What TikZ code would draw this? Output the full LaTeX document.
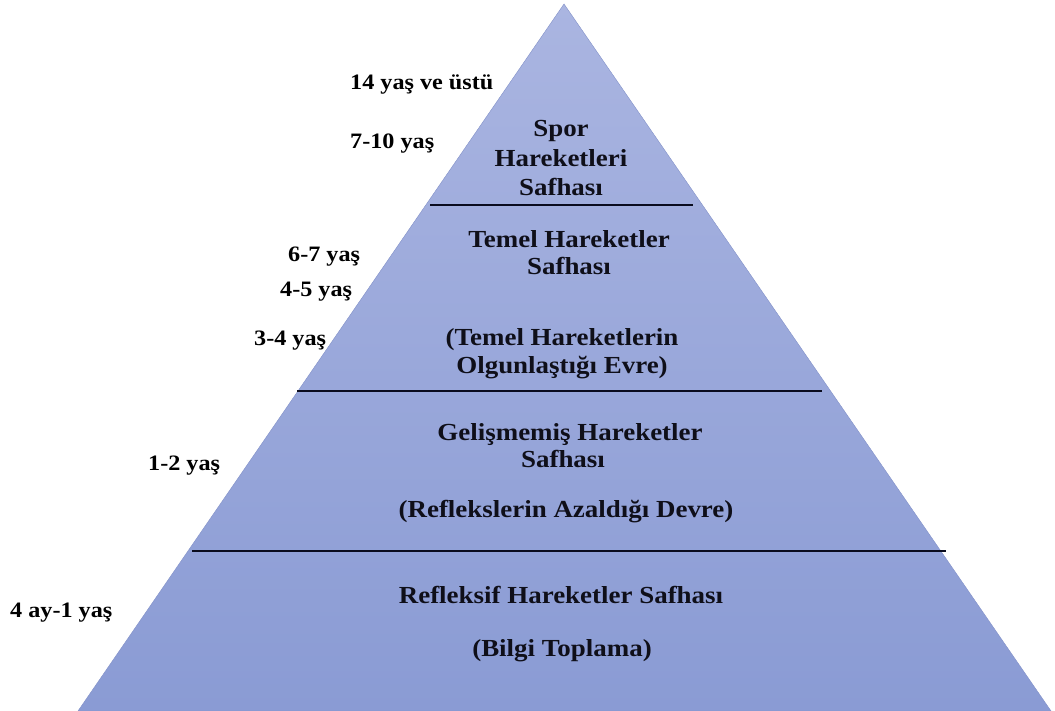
\documentclass[tikz,border=0pt]{standalone}
\usepackage{fontspec}
\setmainfont{Liberation Serif}
\newfontfamily\widefont[FakeStretch=1.1]{Liberation Serif}
\begin{document}
\begin{tikzpicture}[x=1pt,y=-1pt,
  agelbl/.style={font=\widefont\fontsize{22}{26}\selectfont\bfseries, inner sep=0pt, text=black, anchor=base west},
  stage/.style={font=\widefont\fontsize{24.5}{29}\selectfont\bfseries, inner sep=0pt, text={rgb,255:red,15;green,15;blue,25}, anchor=base},
  divider/.style={draw={rgb,255:red,10;green,12;blue,30}, line width=2pt}]
\useasboundingbox (0,0) rectangle (1055,711);
\coordinate (apex) at (564,4);
\coordinate (bl) at (78,711);
\coordinate (br) at (1051,711);
\shade[top color={rgb,255:red,170;green,181;blue,225}, bottom color={rgb,255:red,138;green,155;blue,212}, draw={rgb,255:red,130;green,145;blue,200}, line width=0.4pt]
  (apex) -- (br) -- (bl) -- cycle;
% dividers
\coordinate (d1a) at (430,205); \coordinate (d1b) at (693,205);
\coordinate (d2a) at (297,391); \coordinate (d2b) at (822,391);
\coordinate (d3a) at (192,551); \coordinate (d3b) at (946,551);
\draw[divider] (d1a) -- (d1b);
\draw[divider] (d2a) -- (d2b);
\draw[divider] (d3a) -- (d3b);
% stage texts
\node[stage] (s1a) at (561,137) {Spor};
\node[stage] (s1b) at (561,167) {Hareketleri};
\node[stage] (s1c) at (561,196) {Safhası};
\node[stage] (s2a) at (569,248) {Temel Hareketler};
\node[stage] (s2b) at (569,275) {Safhası};
\node[stage] (s2c) at (562,345) {(Temel Hareketlerin};
\node[stage] (s2d) at (562,373) {Olgunlaştığı Evre)};
\node[stage] (s3a) at (570,440) {Gelişmemiş Hareketler};
\node[stage] (s3b) at (563,467) {Safhası};
\node[stage] (s3c) at (566,517) {(Reflekslerin Azaldığı Devre)};
\node[stage] (s4a) at (561,603) {Refleksif Hareketler Safhası};
\node[stage] (s4b) at (562,656) {(Bilgi Toplama)};
% age labels
\node[agelbl] (a1) at (350,90) {14 yaş ve üstü};
\node[agelbl] (a2) at (350,149) {7-10 yaş};
\node[agelbl] (a3) at (288,262) {6-7 yaş};
\node[agelbl] (a4) at (280,297) {4-5 yaş};
\node[agelbl] (a5) at (254,345) {3-4 yaş};
\node[agelbl] (a6) at (148,470) {1-2 yaş};
\node[agelbl] (a7) at (10,617) {4 ay-1 yaş};
\end{tikzpicture}
\end{document}
